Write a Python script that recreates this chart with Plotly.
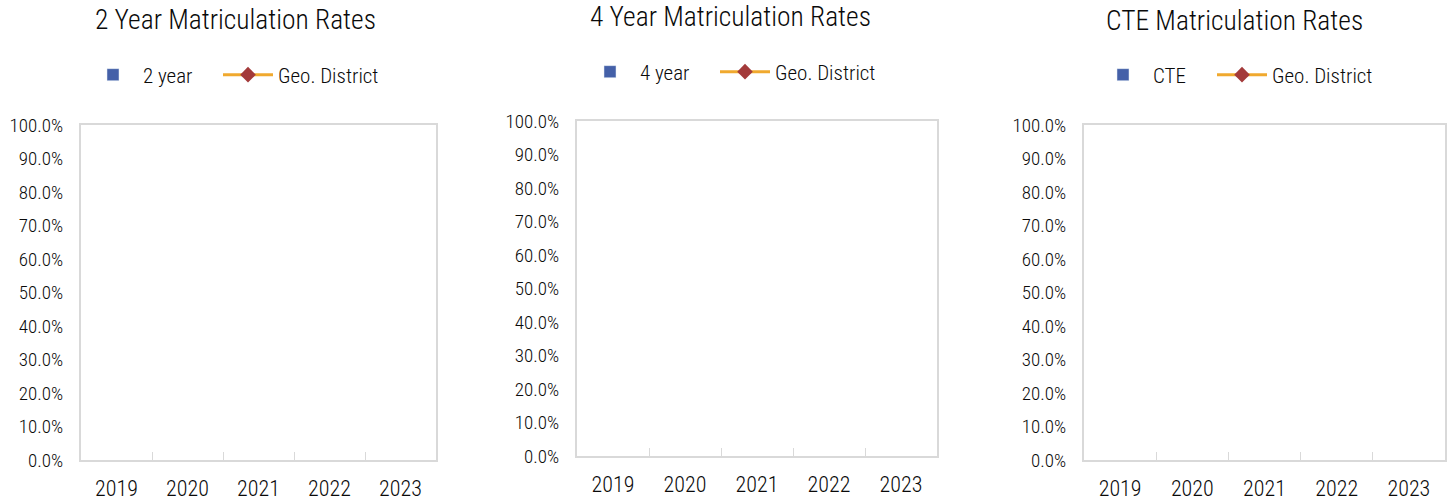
import plotly.graph_objects as go

W, H = 1450, 504

years = ["2019", "2020", "2021", "2022", "2023"]
two_year = [None, None, None, None, None]
four_year = [None, None, None, None, None]
cte = [None, None, None, None, None]
geo_district_2yr = [None, None, None, None, None]
geo_district_4yr = [None, None, None, None, None]
geo_district_cte = [None, None, None, None, None]

titles = ["2 Year Matriculation Rates", "4 Year Matriculation Rates", "CTE Matriculation Rates"]
bar_names = ["2 year", "4 year", "CTE"]
line_name = "Geo. District"

FONT = "Liberation Sans Narrow, Arial Narrow, Roboto Condensed, Liberation Sans, sans-serif"
BAR_COLOR = "#4460A8"
LINE_COLOR = "#F0A92E"
MARKER_COLOR = "#A33A3A"
AXIS_COLOR = "#D9D9D9"
TEXT_COLOR = "#0A0A0A"

# pixel boxes of the plot areas: (left, right, top, bottom)
boxes = [(81, 436, 125, 460), (577, 937, 121, 456), (1084, 1445, 125, 460)]
title_pos = [(236, 20), (730, 17), (1234, 21)]
# legend anchor x for bar entry, x for line entry, y centre
legend_pos = [(83, 218, 75), (580, 715, 72), (1093, 1212, 75)]

fig = go.Figure()

series = [(two_year, geo_district_2yr), (four_year, geo_district_4yr), (cte, geo_district_cte)]

for i, ((bar_vals, line_vals), name) in enumerate(zip(series, bar_names)):
    sfx = "" if i == 0 else str(i + 1)
    leg_bar = "legend" if i == 0 else f"legend{2 * i + 1}"
    leg_line = f"legend{2 * i + 2}"
    fig.add_trace(go.Bar(x=years, y=bar_vals, name=name, marker_color=BAR_COLOR,
                         xaxis="x" + sfx, yaxis="y" + sfx, legend=leg_bar, showlegend=True))
    fig.add_trace(go.Scatter(x=years, y=line_vals, name=line_name, mode="lines+markers",
                             line=dict(color=LINE_COLOR, width=3),
                             marker=dict(symbol="diamond", size=12, color=MARKER_COLOR),
                             xaxis="x" + sfx, yaxis="y" + sfx, legend=leg_line, showlegend=True))

layout = dict(
    width=W, height=H,
    margin=dict(l=0, r=0, t=0, b=0, autoexpand=False),
    paper_bgcolor="white", plot_bgcolor="white",
    font=dict(family=FONT, color=TEXT_COLOR, weight=300),
    bargap=0.4, showlegend=True,
)

for i, (l, r, t, b) in enumerate(boxes):
    sfx = "" if i == 0 else str(i + 1)
    layout["xaxis" + sfx] = dict(
        domain=[l / W, r / W], anchor="y" + sfx, type="category",
        categoryorder="array", categoryarray=years, range=[-0.5, 4.5],
        showline=True, linecolor=AXIS_COLOR, linewidth=2, mirror=True,
        ticks="inside", tickson="boundaries", ticklen=8, tickcolor=AXIS_COLOR, tickwidth=1,
        showgrid=False, zeroline=False, automargin=False,
        tickfont=dict(size=22, family=FONT, color=TEXT_COLOR, weight=300), ticklabelstandoff=8,
        fixedrange=True,
    )
    layout["yaxis" + sfx] = dict(
        domain=[1 - b / H, 1 - t / H], anchor="x" + sfx,
        range=[0, 1], dtick=0.1, tickformat=".1%",
        showline=True, linecolor=AXIS_COLOR, linewidth=2, mirror=True,
        ticks="", showgrid=False, zeroline=False, automargin=False,
        tickfont=dict(size=19, family=FONT, color=TEXT_COLOR, weight=300), ticklabelstandoff=12,
        fixedrange=True,
    )
    bx, lx, ly = legend_pos[i]
    for key, x in (("legend" if i == 0 else f"legend{2 * i + 1}", bx), (f"legend{2 * i + 2}", lx)):
        layout[key] = dict(
            x=x / W, y=1 - ly / H, xanchor="left", yanchor="middle",
            orientation="h", font=dict(size=21, family=FONT, color=TEXT_COLOR, weight=300),
            bgcolor="rgba(0,0,0,0)", itemwidth=50, tracegroupgap=0, visible=True,
        )

fig.update_layout(**layout)

for (tx, ty), txt in zip(title_pos, titles):
    fig.add_annotation(x=tx / W, y=1 - ty / H, xref="paper", yref="paper",
                       text=txt, showarrow=False, xanchor="center", yanchor="middle",
                       font=dict(size=27.5, family=FONT, color=TEXT_COLOR, weight=300))

fig.write_html("out.html", config={"displayModeBar": False},
               post_script="document.body.style.margin='0';")
